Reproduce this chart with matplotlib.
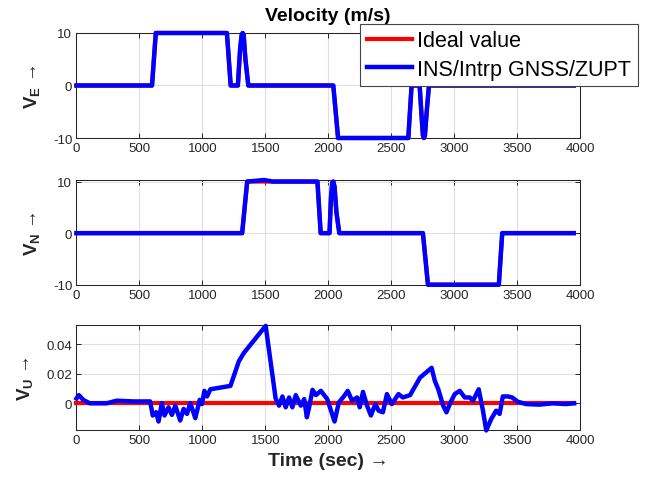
"""
Velocity error plot: ideal value vs INS/Intrp GNSS/ZUPT estimate
- three stacked panels (V_E, V_N, V_U)
- shared legend on the top panel
"""

import matplotlib
matplotlib.use('Agg')
from matplotlib import pyplot as plt

plt.rcParams['font.family'] = ['Liberation Sans', 'DejaVu Sans']
plt.rcParams['mathtext.fontset'] = 'custom'
plt.rcParams['mathtext.rm'] = 'Liberation Sans'
plt.rcParams['mathtext.bf'] = 'Liberation Sans:bold'
plt.rcParams['mathtext.it'] = 'Liberation Sans:italic'

# East velocity (m/s)
t_e = [0, 600, 630, 1195, 1225, 1282, 1300, 1312, 1320, 1328, 1342, 1365,
       2040, 2078, 2636, 2662, 2726, 2742, 2752, 2760, 2768, 2782, 2800, 3950]
ve_ideal = [0, 0, 10, 10, 0, 0, 7, 9.6, 10, 9.6, 5, 0,
            0, -10, -10, 0, 0, -6, -9.5, -10, -9.5, -5, 0, 0]
ve_est = [0, 0, 10, 10, 0, 0, 7, 9.6, 10, 9.6, 5, 0,
          0, -10, -10, 0, 0, -6, -9.5, -10, -9.5, -5, 0, 0]

# North velocity (m/s)
t_n = [0, 1316, 1356, 1490, 1560, 1914, 1940, 2010, 2022, 2032, 2040, 2050,
       2065, 2088, 2752, 2792, 3355, 3382, 3950]
vn_ideal = [0, 0, 10, 10, 10, 10, 0, 0, 7, 9.8, 10, 9,
            4, 0, 0, -10, -10, 0, 0]
vn_est = [0, 0, 10, 10.3, 10, 10, 0, 0, 7, 9.8, 10, 9,
          4, 0, 0, -10, -10, 0, 0]

# Up velocity (m/s)
t_u_ideal = [0, 3950]
vu_ideal = [0, 0]
t_u = [0, 19, 53, 106, 239, 319, 452, 585, 606, 633, 652, 678, 699, 731,
       758, 785, 824, 851, 878, 904, 944, 979, 997, 1016, 1037, 1064, 1223,
       1290, 1330, 1503, 1582, 1609, 1636, 1662, 1689, 1715, 1742, 1782,
       1809, 1830, 1848, 1875, 1902, 1941, 1992, 2050, 2084, 2124, 2155,
       2189, 2229, 2250, 2276, 2308, 2339, 2374, 2400, 2434, 2466, 2505,
       2558, 2592, 2650, 2729, 2821, 2847, 2874, 2913, 2939, 2971, 3005,
       3045, 3084, 3124, 3150, 3195, 3229, 3255, 3295, 3334, 3361, 3387,
       3426, 3461, 3505, 3571, 3676, 3782, 3887, 3953]
vu_est = [0.0031, 0.0054, 0.0022, -0.0002, -0.0002, 0.0016, 0.0011, 0.0011,
          -0.0085, -0.0063, -0.0126, 0.0, -0.0085, -0.0029, -0.0081, -0.0018,
          -0.0119, -0.0040, -0.0074, 0.0, -0.0103, 0.0022, -0.0007, 0.0083,
          0.0045, 0.0094, 0.0117, 0.0285, 0.0342, 0.0526, 0.0031, -0.0018,
          0.0045, -0.0029, 0.0038, -0.0029, 0.0054, -0.0018, 0.0027, -0.0097,
          -0.0029, 0.0090, 0.0054, 0.0083, 0.0027, -0.0126, 0.0004, 0.0045,
          0.0083, 0.0016, 0.0038, -0.0029, 0.0076, -0.0018, -0.0085, -0.0007,
          -0.0052, -0.0063, 0.0061, -0.0007, 0.0061, 0.0038, 0.0054, 0.0173,
          0.0240, 0.0150, 0.0094, -0.0018, -0.0063, 0.0004, 0.0061, 0.0083,
          0.0038, 0.0038, 0.0016, 0.0094, -0.0052, -0.0187, -0.0108, -0.0052,
          -0.0074, 0.0045, 0.0045, 0.0038, 0.0009, -0.0007, -0.0011, -0.0002,
          -0.0007, -0.0002]

x_ticks = [0, 500, 1000, 1500, 2000, 2500, 3000, 3500, 4000]

DARK = '#262626'

fig = plt.figure(figsize=(6.52, 4.85), dpi=100)

# axes rectangles [left, bottom, width, height] in figure fraction
ax1 = fig.add_axes([0.1173, 0.7134, 0.7723, 0.2165])
ax2 = fig.add_axes([0.1173, 0.4109, 0.7723, 0.2159])
ax3 = fig.add_axes([0.1173, 0.1113, 0.7723, 0.2165])

panels = [
    (ax1, t_e, ve_ideal, t_e, ve_est, (-10, 10), [-10, 0, 10], ['-10', '0', '10'], 'E'),
    (ax2, t_n, vn_ideal, t_n, vn_est, (-10, 10.3), [-10, 0, 10], ['-10', '0', '10'], 'N'),
    (ax3, t_u_ideal, vu_ideal, t_u, vu_est, (-0.0184, 0.0532), [0, 0.02, 0.04],
     ['0', '0.02', '0.04'], 'U'),
]

for ax, t_i, v_i, t_s, v_s, ylim, yt, ytl, comp in panels:
    ax.plot(t_i, v_i, color='red', lw=3, label='Ideal value', zorder=3,
            clip_on=False)
    ax.plot(t_s, v_s, color='blue', lw=3.2, label='INS/Intrp GNSS/ZUPT',
            zorder=4, clip_on=False)

    ax.set_xlim(0, 4000)
    ax.set_ylim(*ylim)
    ax.set_xticks(x_ticks)
    ax.set_xticklabels([str(v) for v in x_ticks])
    ax.set_yticks(yt)
    ax.set_yticklabels(ytl)

    ax.grid(True, color='#dfdfdf', lw=0.8, zorder=0)
    ax.set_axisbelow(True)
    ax.tick_params(direction='in', top=True, right=True, length=3.5,
                   width=0.7, colors=DARK, labelsize=9.5, pad=3)
    for sp in ax.spines.values():
        sp.set_color(DARK)
        sp.set_linewidth(0.75)

    ax.set_ylabel(r'$\mathbf{V_' + comp + r'}$ →',
                  fontsize=13.5, color=DARK, labelpad=8)

ax1.set_title('Velocity (m/s)', fontsize=14, fontweight='bold', pad=9.5)
ax3.set_xlabel('Time (sec) →', fontsize=14, fontweight='bold',
               color=DARK, labelpad=4)

leg = ax1.legend(
    loc='upper right',
    bbox_to_anchor=(637.7 / 652, 1 - 25 / 485),
    bbox_transform=fig.transFigure,
    borderaxespad=0,
    fontsize=15.5,
    handlelength=2.1,
    handletextpad=0.25,
    borderpad=0.3,
    labelspacing=0.35,
    fancybox=False,
    framealpha=1,
    edgecolor='#444444',
)
leg.get_frame().set_linewidth(0.8)
leg.set_zorder(10)

fig.savefig('out.png', dpi=100)
